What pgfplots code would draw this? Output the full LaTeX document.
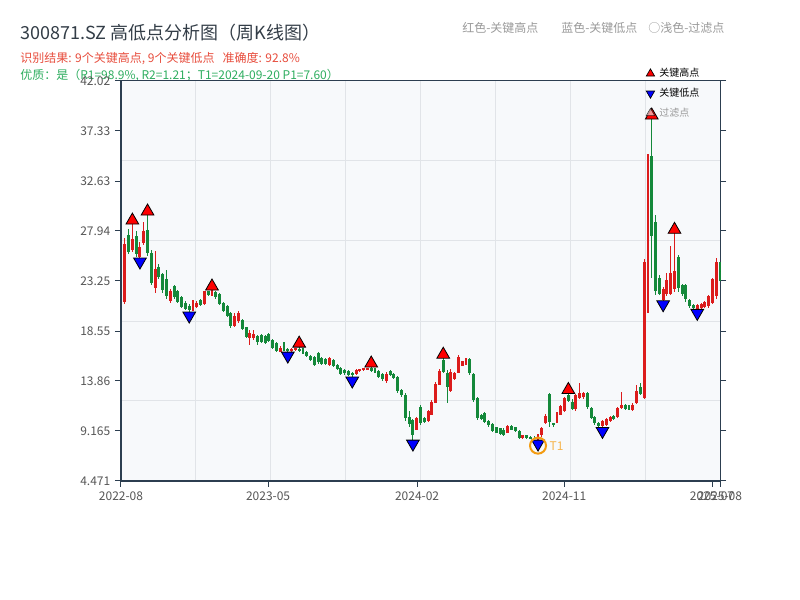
\documentclass[border=0pt]{standalone}
\usepackage{pgfplots}
\pgfplotsset{compat=1.18}
\usepackage{pgfplotstable}
\usepackage{fontspec}
\setmainfont{Noto Sans CJK SC}

\definecolor{upc}{HTML}{DC1C1C}
\definecolor{dnc}{HTML}{14893A}
\definecolor{spine}{HTML}{2C3E50}
\definecolor{gridc}{HTML}{E1E4E8}
\definecolor{bgc}{HTML}{F7F9FB}
\definecolor{tickc}{HTML}{555555}
\definecolor{titlec}{HTML}{333D47}
\definecolor{redt}{HTML}{E74C3C}
\definecolor{greent}{HTML}{2EAD5F}
\definecolor{hdr}{HTML}{999999}
\definecolor{hic}{HTML}{FF0000}
\definecolor{loc}{HTML}{0000FF}
\definecolor{t1c}{HTML}{F39C12}
\definecolor{filt}{HTML}{F6C6C6}

\pgfplotstableread{
i O H L C
0 21.50 21.65 21.40 21.60
1 21.30 27.30 21.10 26.70
2 27.60 28.10 25.80 26.00
3 26.20 28.59 26.00 27.20
4 27.50 27.90 25.50 25.80
5 25.50 26.90 25.40 26.40
6 26.80 28.80 26.60 27.90
7 28.00 29.44 25.60 25.90
8 25.90 26.15 22.90 23.10
9 22.60 26.10 22.10 24.40
10 24.60 24.80 23.40 23.60
11 23.90 24.00 22.10 22.40
12 23.40 24.30 21.60 21.80
13 21.40 22.50 21.20 22.30
14 22.80 22.90 21.60 21.70
15 22.30 22.40 21.20 21.30
16 21.70 21.80 20.70 20.80
17 21.20 21.40 20.50 20.60
18 20.90 21.10 20.33 20.50
19 20.50 21.50 20.40 21.30
20 20.80 21.40 20.70 21.20
21 21.50 21.60 20.90 21.00
22 21.10 22.35 21.00 22.30
23 22.30 22.35 21.80 21.90
24 21.90 22.40 21.80 22.20
25 22.20 22.30 21.60 21.70
26 22.00 22.10 21.00 21.10
27 21.20 21.30 20.30 20.40
28 20.90 21.00 19.90 20.00
29 20.20 20.36 18.80 19.00
30 19.00 20.20 18.95 20.00
31 19.50 20.40 19.30 20.20
32 19.60 19.70 18.60 18.70
33 18.90 18.95 17.86 18.00
34 17.90 18.60 17.20 18.40
35 17.90 18.60 17.70 18.30
36 18.10 18.20 17.20 17.50
37 18.20 18.30 17.40 17.50
38 18.10 18.20 17.30 17.40
39 18.30 18.40 17.50 17.60
40 17.70 17.80 16.90 17.00
41 17.40 17.50 16.60 16.70
42 16.60 17.10 16.60 17.00
43 17.30 17.50 16.70 16.80
44 16.90 17.00 16.57 16.70
45 16.70 17.00 16.60 16.90
46 16.80 17.00 16.70 16.95
47 16.90 17.04 16.60 16.70
48 16.90 17.00 16.40 16.50
49 16.60 16.70 16.10 16.20
50 16.20 16.30 15.70 15.80
51 16.10 16.20 15.30 15.40
52 16.50 16.60 15.50 15.60
53 16.00 16.10 15.40 15.50
54 15.90 16.00 15.40 15.50
55 15.40 16.10 15.30 16.00
56 15.80 15.90 15.20 15.30
57 15.40 15.50 14.90 15.00
58 15.10 15.20 14.40 14.50
59 14.90 15.00 14.40 14.60
60 14.80 14.90 14.30 14.40
61 14.60 14.70 14.23 14.40
62 14.50 14.95 14.40 14.90
63 14.80 15.00 14.70 15.00
64 14.90 15.10 14.80 15.05
65 14.95 15.12 14.90 15.10
66 15.10 15.17 14.70 14.80
67 15.00 15.10 14.60 14.70
68 14.80 14.90 14.10 14.20
69 14.50 14.60 13.90 14.00
70 13.90 14.70 13.70 14.50
71 14.80 14.90 14.30 14.40
72 14.50 14.60 14.00 14.10
73 14.20 14.30 12.75 12.90
74 13.00 13.10 12.40 12.50
75 12.50 12.70 10.10 10.40
76 10.50 11.00 9.50 9.80
77 10.20 10.30 8.31 8.80
78 9.30 10.50 9.25 10.40
79 11.40 11.60 9.70 9.90
80 10.40 10.45 9.90 10.00
81 10.10 11.13 10.03 11.00
82 10.70 12.07 10.66 11.90
83 11.80 13.78 11.75 13.60
84 13.50 14.95 13.47 14.80
85 15.80 16.00 14.57 14.70
86 14.60 14.88 11.78 13.30
87 12.90 14.95 12.85 14.70
88 14.00 14.73 13.94 14.60
89 14.60 16.29 14.57 16.10
90 15.30 15.76 15.26 15.70
91 15.50 16.00 15.40 15.90
92 15.90 16.00 14.40 14.60
93 14.50 14.57 11.91 12.10
94 12.30 12.38 10.19 10.40
95 10.70 10.80 10.20 10.30
96 10.90 10.97 9.88 10.00
97 10.10 10.19 9.56 9.70
98 9.80 9.88 9.09 9.20
99 9.50 9.56 8.94 9.00
100 9.40 9.45 8.80 8.90
101 9.30 9.41 8.70 8.80
102 8.95 9.72 8.94 9.60
103 9.65 9.72 9.25 9.30
104 9.50 9.56 9.10 9.20
105 9.20 9.25 8.40 8.50
106 8.50 8.80 8.40 8.75
107 8.75 8.80 8.40 8.50
108 8.60 8.70 8.40 8.45
109 8.55 8.65 8.40 8.45
110 8.45 8.90 8.31 8.80
111 8.80 9.56 8.60 9.40
112 9.90 10.80 9.85 10.60
113 12.60 12.75 9.56 10.00
114 9.90 9.95 9.56 9.70
115 9.90 10.97 9.87 10.90
116 10.70 11.60 10.66 11.50
117 11.00 12.40 10.97 12.30
118 12.50 12.69 11.90 12.00
119 11.90 12.20 11.10 11.20
120 11.20 12.60 11.00 12.50
121 12.30 13.70 12.20 12.70
122 12.40 12.80 12.20 12.70
123 12.70 12.80 11.20 11.40
124 11.30 11.40 10.30 10.40
125 10.50 10.60 9.70 9.90
126 9.90 10.00 9.55 9.60
127 9.60 10.20 9.50 10.10
128 9.70 10.40 9.60 10.30
129 10.10 10.60 10.00 10.50
130 10.60 10.70 10.20 10.30
131 10.50 11.40 10.40 11.30
132 11.30 12.80 11.20 11.60
133 11.60 11.70 11.10 11.20
134 11.50 11.60 11.10 11.20
135 11.10 11.75 11.00 11.60
136 11.80 13.50 11.70 12.90
137 13.30 13.70 12.50 12.60
138 12.30 25.30 12.20 25.00
139 24.40 35.13 20.20 35.00
140 35.00 38.45 23.50 27.50
141 28.80 29.40 21.90 22.30
142 23.50 23.80 21.90 22.00
143 21.50 22.70 21.39 22.50
144 22.00 24.00 21.80 23.30
145 22.00 26.50 21.90 24.00
146 22.50 27.72 22.20 24.20
147 25.50 25.70 22.20 22.60
148 22.90 23.00 21.80 22.00
149 22.90 23.00 21.30 21.60
150 21.50 21.60 20.70 20.90
151 21.00 21.10 20.60 20.70
152 20.65 21.10 20.58 21.00
153 20.70 21.20 20.60 21.10
154 20.80 21.40 20.70 21.30
155 20.90 21.90 20.70 21.80
156 21.20 23.50 21.10 23.40
157 21.80 25.40 21.60 25.00
158 25.00 25.06 23.20 23.30
}\kdata

\pgfplotstableread{
i v
3 28.59
7 29.44
24 22.40
47 17.04
66 15.17
85 16.00
118 12.69
140 38.45
146 27.72
}\highs

\pgfplotstableread{
i v
5 25.40
18 20.33
44 16.57
61 14.23
77 8.31
110 8.31
127 9.50
143 21.39
152 20.58
}\lows

\pgfplotstableread{
i v
110 7.79
}\tone

\pgfplotsset{
  candle/.style n args={2}{only marks, mark=*, mark size=0pt,
    mark options={draw=none, fill=none}, forget plot,
    error bars/.cd, y dir=both, y explicit, error mark=none,
    error bar style={draw=#1, line width=#2}, /pgfplots/.cd},
}

\begin{document}
\begin{tikzpicture}[x=0.75pt,y=0.75pt]
\useasboundingbox (0,0) rectangle (800,600);

\node[anchor=west, inner sep=0pt, text=titlec, font=\fontsize{13.5}{16}\selectfont] at (20,567) {300871.SZ 高低点分析图（周K线图）};
\node[anchor=west, inner sep=0pt, text=redt, font=\fontsize{9}{11}\selectfont] at (20,541) {识别结果: 9个关键高点, 9个关键低点\hspace{6pt}准确度: 92.8\%};
\node[anchor=west, inner sep=0pt, text=greent, font=\fontsize{9}{11}\selectfont] at (20,524) {优质：是（R1=98.9\%, R2=1.21；T1=2024-09-20 P1=7.60）};

\node[anchor=west, inner sep=0pt, text=hdr, font=\fontsize{9}{11}\selectfont] at (462,572) {红色-关键高点};
\node[anchor=west, inner sep=0pt, text=hdr, font=\fontsize{9}{11}\selectfont] at (561,572) {蓝色-关键低点};
\node[anchor=west, inner sep=0pt, text=hdr, font=\fontsize{9}{11}\selectfont] at (648,572) {○浅色-过滤点};

\begin{axis}[
  at={(90.75pt,89.25pt)}, anchor=south west,
  scale only axis, width=449.25pt, height=300pt,
  xmin=0, xmax=158, ymin=4.471, ymax=42.02,
  clip=false,
  axis background/.style={fill=bgc},
  axis line style={draw=spine, line width=0.75pt},
  tick align=outside, xtick pos=left, ytick pos=both,
  major tick length=4.5pt,
  tick style={draw=spine, line width=0.75pt},
  minor tick num=0,
  xtick={0,38.8,78.1,116.9,155.9,158},
  xticklabels={2022-08,2023-05,2024-02,2024-11,2025-07,2025-08},
  ytick={4.471,9.165,13.86,18.55,23.25,27.94,32.63,37.33,42.02},
  yticklabels={4.471,9.165,13.86,18.55,23.25,27.94,32.63,37.33,42.02},
  ticklabel style={font=\fontsize{9}{10}\selectfont, text=tickc},
  legend style={at={(0.8765,1.037)}, anchor=north west, draw=none, fill=none,
    inner sep=0pt, font=\fontsize{7.5}{9}\selectfont, row sep=4pt,
    nodes={inner sep=1.5pt},
    /tikz/every odd column/.style={column sep=2pt}},
  legend cell align=left,
  legend image code/.code={\draw[mark repeat=2,mark phase=2,#1] plot coordinates {(0cm,0cm) (0.1cm,0cm) (0.2cm,0cm)};},
]
\addlegendimage{only marks, mark=triangle*, mark size=3.6pt, mark options={fill=hic, draw=black, line width=0.5pt}}
\addlegendentry{关键高点}
\addlegendimage{only marks, mark=triangle*, mark size=3.6pt, mark options={fill=loc, draw=black, line width=0.5pt, rotate=180}}
\addlegendentry{关键低点}
\addlegendimage{only marks, mark=triangle*, mark size=3.6pt, mark options={fill=filt, draw=black, line width=0.4pt, opacity=0.75}}
\addlegendentry{\textcolor{hdr}{过滤点}}

\pgfplotsinvokeforeach{0.125,0.25,0.375,0.5,0.625,0.75,0.875}{
  \draw[gridc, line width=0.75pt] (rel axis cs:#1,0) -- (rel axis cs:#1,1);
}
\pgfplotsinvokeforeach{0.2,0.4,0.6,0.8}{
  \draw[gridc, line width=0.75pt] (rel axis cs:0,#1) -- (rel axis cs:1,#1);
}

% rising candles: wick and body
\addplot[restrict expr to domain={\thisrow{C}-\thisrow{O}}{0:1000}, candle={upc}{0.8pt}]
  table[x=i, y expr={(\thisrow{H}+\thisrow{L})/2}, y error expr={(\thisrow{H}-\thisrow{L})/2}] {\kdata};
\addplot[restrict expr to domain={\thisrow{C}-\thisrow{O}}{0:1000}, candle={upc}{2.2pt}]
  table[x=i, y expr={(\thisrow{O}+\thisrow{C})/2}, y error expr={max(abs(\thisrow{C}-\thisrow{O})/2,0.05)}] {\kdata};
% falling candles
\addplot[restrict expr to domain={\thisrow{O}-\thisrow{C}}{0.0001:1000}, candle={dnc}{0.8pt}]
  table[x=i, y expr={(\thisrow{H}+\thisrow{L})/2}, y error expr={(\thisrow{H}-\thisrow{L})/2}] {\kdata};
\addplot[restrict expr to domain={\thisrow{O}-\thisrow{C}}{0.0001:1000}, candle={dnc}{2.2pt}]
  table[x=i, y expr={(\thisrow{O}+\thisrow{C})/2}, y error expr={max(abs(\thisrow{C}-\thisrow{O})/2,0.05)}] {\kdata};

% key highs / lows
\addplot[only marks, forget plot, mark=triangle*, mark size=5.5pt,
  mark options={fill=hic, draw=black, line width=0.6pt}]
  table[x=i, y expr={\thisrow{v}+0.344}] {\highs};
\addplot[only marks, forget plot, mark=triangle*, mark size=5.5pt,
  mark options={fill=loc, draw=black, line width=0.6pt, rotate=180}]
  table[x=i, y expr={\thisrow{v}-0.344}] {\lows};

% T1
\addplot[only marks, forget plot, mark=o, mark size=6pt,
  mark options={draw=t1c, line width=1.5pt}]
  table[x=i, y=v] {\tone};
\node[anchor=west, inner sep=0pt, text=t1c!75, font=\fontsize{9}{10}\selectfont, xshift=8.5pt] at (axis cs:110,7.79) {T1};

\draw[spine, line width=1.9pt] (rel axis cs:0,1) -- (rel axis cs:0,0) -- (rel axis cs:1,0);
\end{axis}
\end{tikzpicture}
\end{document}
